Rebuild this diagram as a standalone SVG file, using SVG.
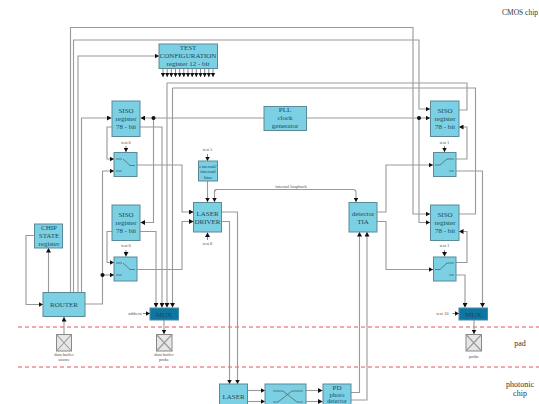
<svg xmlns="http://www.w3.org/2000/svg" width="539" height="404" viewBox="0 0 539 404">
<defs>
<marker id="a" markerUnits="userSpaceOnUse" markerWidth="5" markerHeight="5" refX="4.5" refY="2.5" orient="auto"><path d="M0 0L4.5 2.5L0 5Z" fill="#111"/></marker>
</defs>
<style>
.b{fill:#7cd0e3;stroke:#5a8a98;stroke-width:1}
.m{fill:#0f76a4;stroke:#4a8aa5;stroke-width:1}
.t{font-family:"Liberation Serif",serif;font-size:7px;fill:#1a4a5a;text-anchor:middle;opacity:.99}
.s{font-family:"Liberation Serif",serif;font-size:4.5px;fill:#555;text-anchor:middle;opacity:.99}
.l{font-family:"Liberation Serif",serif;font-size:8px;fill:#333;text-anchor:middle;opacity:.99}
.c{fill:none;stroke:#999;stroke-width:1.1}
.d{fill:none;stroke:#555;stroke-width:.7}
.r{stroke:#e4505c;stroke-width:1;stroke-dasharray:4 3}
.p{fill:#e6e6e6;stroke:#888;stroke-width:1}
.h{marker-end:url(#a)}
</style>
<line class="r" x1="18" y1="327" x2="539" y2="327"/>
<line class="r" x1="18" y1="367" x2="539" y2="367"/>
<g id="connectors">
<path class="c h" d="M70.500 292V27.500H413V214H430"/>
<path class="c h" d="M73.500 292V40H419V109H430"/>
<path class="c h" d="M78 292V56H159"/>
<path class="c h" d="M81.500 292V118H111.500"/>
<path class="c h" d="M264 118H140.500"/>
<path class="c h" d="M306 118H430"/>
<path class="c h" d="M153.500 118V222.500H140.500"/>
<path class="c h" d="M419 118V222.500H430"/>
<path class="c h" d="M140 127H162V307.500"/>
<path class="c h" d="M140 231.500H156V307.500"/>
<path class="c" d="M459 110H467V83H167"/>
<path class="c h" d="M167 83V307.500"/>
<path class="c" d="M459 214H475.500V88H172.500"/>
<path class="c h" d="M172.500 88V307.500"/>
<path class="c h" d="M112 127H107V159H114"/>
<path class="c h" d="M112 231.500H107V262.500H114"/>
<path class="c h" d="M137 165H182V212H193.500"/>
<path class="c h" d="M137 269.500H182V221.500H193.500"/>
<path class="c h" d="M85 304H102.500V171H114"/>
<path class="c h" d="M102.500 275H114"/>
<path class="c h" d="M48.500 292V248"/>
<path class="c h" d="M34.500 235.500H26V304.500H43"/>
<path class="c h" d="M64 334V317"/>
<path class="c h" d="M164 320V334"/>
<path class="c h" d="M474 320V334"/>
<path class="c h" d="M207.500 181V202"/>
<path class="c h" d="M214.500 192Q214.500 189.500 217 189.500H353Q356 189.500 356 192V202"/>
<path class="c h" d="M217 189.500Q214.500 189.500 214.500 192V202"/>
<path class="c h" d="M221.500 212H237.500V384"/>
<path class="c h" d="M221.500 221.500H229.500V384"/>
<path class="c h" d="M248 390.500H265"/>
<path class="c h" d="M248 401.500H265"/>
<path class="c h" d="M306 390.500H322.500"/>
<path class="c h" d="M306 401.500H322.500"/>
<path class="c h" d="M351 392.500H359.500V232"/>
<path class="c h" d="M351 400H367V232"/>
<path class="c h" d="M377 212H386V165H433"/>
<path class="c h" d="M377 221.500H386V269.500H433"/>
<path class="c h" d="M456 159H467V127H459"/>
<path class="c h" d="M456 262.500H467V231.500H459"/>
<path class="c h" d="M456 171H482.500V307.500"/>
<path class="c h" d="M456 275H465V307.500"/>
<path class="d h" d="M126 146V152"/>
<path class="d h" d="M126 250V256.500"/>
<path class="d h" d="M207.500 154V161"/>
<path class="d h" d="M207.500 240V232.500"/>
<path class="d h" d="M444.500 146V152"/>
<path class="d h" d="M444.500 250V256.500"/>
<path class="d h" d="M143 313.500H150"/>
<path class="d h" d="M452.500 313.500H459"/>
<path class="d h" d="M163 68V77"/><path class="d h" d="M167.200 68V77"/><path class="d h" d="M171.300 68V77"/><path class="d h" d="M175.500 68V77"/><path class="d h" d="M179.700 68V77"/><path class="d h" d="M183.800 68V77"/><path class="d h" d="M188 68V77"/><path class="d h" d="M192.200 68V77"/><path class="d h" d="M196.300 68V77"/><path class="d h" d="M200.500 68V77"/><path class="d h" d="M204.700 68V77"/><path class="d h" d="M208.800 68V77"/><path class="d h" d="M213 68V77"/>
<circle cx="153.500" cy="118" r="2" fill="#111"/>
<circle cx="419" cy="118" r="2" fill="#111"/>
<circle cx="102.500" cy="275" r="2" fill="#111"/>
</g>
<g id="test-config"><rect class="b" x="159" y="44" width="58.500" height="24.500"/><text class="t" x="188" y="50">TEST</text><text class="t" x="188" y="58">CONFIGURATION</text><text class="t" x="188" y="66">register 12 - bit</text></g>
<g id="siso-1"><rect class="b" x="112" y="101" width="28" height="35.500"/><text class="t" x="126" y="113">SISO</text><text class="t" x="126" y="121">register</text><text class="t" x="126" y="128.500">78 - bit</text></g>
<g id="siso-2"><rect class="b" x="112" y="205" width="28" height="35.500"/><text class="t" x="126" y="217">SISO</text><text class="t" x="126" y="225">register</text><text class="t" x="126" y="232.500">78 - bit</text></g>
<g id="siso-3"><rect class="b" x="430.500" y="101" width="28.500" height="35.500"/><text class="t" x="445" y="113">SISO</text><text class="t" x="445" y="121">register</text><text class="t" x="445" y="128.500">78 - bit</text></g>
<g id="siso-4"><rect class="b" x="430.500" y="205" width="28.500" height="35.500"/><text class="t" x="445" y="217">SISO</text><text class="t" x="445" y="225">register</text><text class="t" x="445" y="232.500">78 - bit</text></g>
<g id="pll"><rect class="b" x="264" y="106.500" width="42.500" height="24"/><text class="t" x="285" y="112">PLL</text><text class="t" x="285" y="120">clock</text><text class="t" x="285" y="128">generator</text></g>
<g id="switch-1"><rect class="b" x="114" y="152.500" width="23" height="24"/><path class="d" d="M116 159H122M116 171H122M123 159L130 165.500H135"/></g>
<g id="switch-2"><rect class="b" x="114" y="257" width="23" height="24"/><path class="d" d="M116 263H122M116 275H122M123 263L130 269.500H135"/></g>
<g id="switch-3"><rect class="b" x="433.500" y="152.500" width="22.500" height="24"/><path class="d" d="M435 165H440L447 159H454M449 171H454"/></g>
<g id="switch-4"><rect class="b" x="433.500" y="257" width="22.500" height="24"/><path class="d" d="M435 269.500H440L447 263H454M449 275H454"/></g>
<g id="bias"><rect class="b" x="198.500" y="161" width="19" height="20"/><text class="s" style="font-size:5px;fill:#1a4a5a" x="208" y="167.500">external/</text><text class="s" style="font-size:5px;fill:#1a4a5a" x="208" y="173">internal</text><text class="s" style="font-size:5px;fill:#1a4a5a" x="208" y="178.500">bias</text></g>
<g id="laser-driver"><rect class="b" x="193.500" y="202.500" width="28" height="29.500"/><text class="t" x="207.500" y="216">LASER</text><text class="t" x="207.500" y="224">DRIVER</text></g>
<g id="tia"><rect class="b" x="349" y="202.500" width="28" height="29.500"/><text class="t" x="363" y="216">detector</text><text class="t" x="363" y="224">TIA</text></g>
<g id="chip-state"><rect class="b" x="34.500" y="224" width="28" height="24"/><text class="t" x="49" y="230">CHIP</text><text class="t" x="49" y="238">STATE</text><text class="t" x="49" y="246">register</text></g>
<g id="router"><rect class="b" x="43" y="292.500" width="42" height="24"/><text class="t" x="64" y="307">ROUTER</text></g>
<g id="mux-1"><rect class="m" x="150" y="308" width="28.500" height="12"/><text class="t" x="164" y="316.500">MUX</text></g>
<g id="mux-2"><rect class="m" x="459" y="308" width="28.500" height="12"/><text class="t" x="473.500" y="316.500">MUX</text></g>
<g id="pad-1"><rect class="p" x="56.500" y="334.500" width="15" height="16.500"/><path class="c" d="M56.500 334.500L71.500 351M71.500 334.500L56.500 351"/></g>
<g id="pad-2"><rect class="p" x="156.500" y="334.500" width="15.500" height="16.500"/><path class="c" d="M156.500 334.500L172 351M172 334.500L156.500 351"/></g>
<g id="pad-3"><rect class="p" x="466" y="334.500" width="15.500" height="16.500"/><path class="c" d="M466 334.500L481.500 351M481.500 334.500L466 351"/></g>
<g id="laser"><rect class="b" x="219.500" y="384" width="28" height="24"/><text class="t" x="233.500" y="399">LASER</text></g>
<g id="coupler"><rect class="b" x="265" y="384" width="41" height="24"/><path class="d" d="M273 391H283L297 402H303M303 391H292L278 402H273"/></g>
<g id="pd"><rect class="b" x="323" y="384" width="28" height="24"/><text class="t" x="337" y="390">PD</text><text class="t" style="font-size:6.500px" x="337" y="397">photo</text><text class="t" style="font-size:6px" x="337" y="403">detector</text></g>
<g id="labels">
<text class="s" x="126" y="143.500">test 0</text><text class="s" x="126" y="247">test 0</text><text class="s" x="207.500" y="151">test 5</text><text class="s" x="207.500" y="245">test 8</text><text class="s" x="444.500" y="143.500">test 1</text><text class="s" x="444.500" y="247">test 1</text>
<text class="s" x="291" y="188">internal loopback</text><text class="s" x="135" y="315">address</text><text class="s" x="442.500" y="315">test 10</text>
<text class="s" x="64" y="356">data buffer</text><text class="s" x="64" y="361">source</text><text class="s" x="164" y="356">data buffer</text><text class="s" x="164" y="361">probe</text><text class="s" x="474" y="358">probe</text>
<text class="l" style="font-size:7.500px" x="520" y="15">CMOS chip</text>
<text class="l" x="520" y="346">pad</text>
<text class="l" x="520" y="386.500">photonic</text>
<text class="l" x="520" y="395.500">chip</text>
</g>
</svg>
